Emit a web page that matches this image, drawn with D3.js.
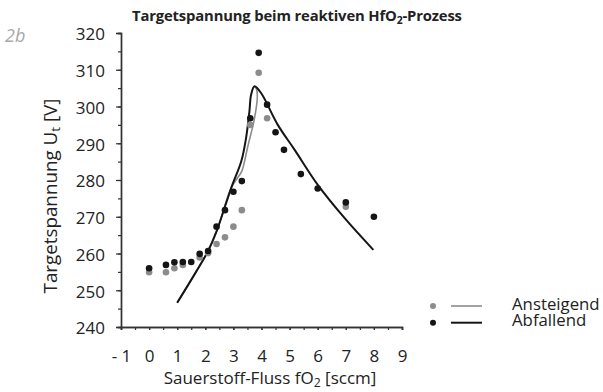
<!DOCTYPE html>
<html>
<head>
<meta charset="utf-8">
<script src="https://cdn.jsdelivr.net/npm/d3@7"></script>
<style>
  html, body { margin: 0; padding: 0; background: #fff; }
  svg { display: block; }
  text { font-family: "Open Sans", Lato, sans-serif; fill: #222; }
</style>
</head>
<body>
<svg id="chart" width="603" height="392"></svg>
<script>
// Oxygen flow (sccm) and target voltage (V), rising sweep (grey)
const risingFlow = [0, 0.6, 0.9, 1.2, 1.8, 2.1, 2.4, 2.7, 3.0, 3.3, 3.6, 3.9, 4.2, 7.0];
const risingVolt = [254.9, 254.9, 256.0, 256.9, 258.9, 260.1, 262.6, 264.4, 267.3, 271.8, 295.0, 309.2, 296.8, 272.7];

// Falling sweep (black)
const fallingFlow = [0, 0.6, 0.9, 1.2, 1.5, 1.8, 2.1, 2.4, 2.7, 3.0, 3.3, 3.6, 3.9, 4.2, 4.5, 4.8, 5.4, 6.0, 7.0, 8.0];
const fallingVolt = [256.0, 256.9, 257.6, 257.7, 257.7, 259.9, 260.7, 267.3, 271.8, 276.8, 279.7, 296.8, 314.6, 300.5, 293.0, 288.2, 281.6, 277.7, 273.9, 270.0];

// Model curves
const risingFitFlow = [1.0, 1.67, 2.1, 2.4, 2.92, 3.15, 3.3, 3.52, 3.73, 3.85, 3.82, 3.75];
const risingFitVolt = [246.6, 255.0, 260.7, 266.0, 277.8, 280.6, 282.4, 289.4, 296.0, 302.3, 304.8, 305.5];
const fallingFitFlow = [1.0, 1.67, 2.1, 2.4, 2.92, 3.28, 3.45, 3.57, 3.63, 3.75, 3.99, 4.58, 5.18, 6.01, 6.96, 7.98];
const fallingFitVolt = [246.6, 255.0, 260.7, 266.0, 277.8, 285.1, 291.4, 298.7, 303.2, 305.5, 303.6, 295.0, 288.2, 278.6, 269.6, 261.0];

// Axis ticks
const xTicks = [-1, 0, 1, 2, 3, 4, 5, 6, 7, 8, 9];
const yTicks = [240, 250, 260, 270, 280, 290, 300, 310, 320];

const seriesNames = ["Ansteigend", "Abfallend"];
const GREY = "#8c8c8c", BLACK = "#151515";

const svg = d3.select("#chart");
svg.append("rect").attr("width", 603).attr("height", 392).attr("fill", "#fff");

const x = d3.scaleLinear().domain([-1, 9]).range([121, 402]);
const y = d3.scaleLinear().domain([240, 320]).range([327, 33]);

// Panel tag
svg.append("text").attr("x", 5).attr("y", 42).attr("font-size", 18)
  .attr("font-style", "italic").style("fill", "#a8a8a8").text("2b");

// Title
const title = svg.append("text").attr("x", 132).attr("y", 21)
  .attr("font-size", 14.8).attr("font-weight", "bold").attr("letter-spacing", -0.15);
title.append("tspan").text("Targetspannung beim reaktiven HfO");
title.append("tspan").attr("font-size", "0.7em").attr("dy", 3).text("2");
title.append("tspan").attr("dy", -3).text("-Prozess");

// Minor ticks every 5 V / 0.5 sccm
const yMinor = d3.range(240, 321, 5);
const xMinor = d3.range(-1, 9.01, 0.5);

const yAxisMinor = svg.append("g").attr("transform", "translate(121,0)")
  .call(d3.axisLeft(y).tickValues(yMinor).tickSize(3).tickFormat(""));
const yAxis = svg.append("g").attr("transform", "translate(121,0)")
  .call(d3.axisLeft(y).tickValues(yTicks).tickSize(5).tickPadding(11).tickFormat(d3.format("d")));

const xAxisMinor = svg.append("g").attr("transform", "translate(0,327)")
  .call(d3.axisBottom(x).tickValues(xMinor).tickSize(3).tickFormat(""));
const xAxis = svg.append("g").attr("transform", "translate(0,327)")
  .call(d3.axisBottom(x).tickValues(xTicks).tickSize(3).tickPadding(20)
    .tickFormat(d => d < 0 ? "- " + Math.abs(d) : String(d)));

[yAxisMinor, yAxis, xAxisMinor, xAxis].forEach(g => {
  g.selectAll(".domain").attr("stroke", "#333").attr("stroke-width", 1.4);
  g.selectAll(".tick line").attr("stroke", "#333").attr("stroke-width", 1.2);
});
yAxis.selectAll(".tick text").attr("font-size", 17).attr("font-family", "'Open Sans', sans-serif")
  .attr("fill", "#222").attr("dy", "0.4em");
xAxis.selectAll(".tick text").attr("font-size", 17).attr("font-family", "'Open Sans', sans-serif")
  .attr("fill", "#222");

// Axis titles
const xTitle = svg.append("text").attr("x", 270).attr("y", 384)
  .attr("text-anchor", "middle").attr("font-size", 17);
xTitle.append("tspan").text("Sauerstoff-Fluss fO");
xTitle.append("tspan").attr("font-size", "0.72em").attr("dy", 3).text("2");
xTitle.append("tspan").attr("dy", -3).text(" [sccm]");

const yTitle = svg.append("text").attr("transform", "translate(57,196) rotate(-90)")
  .attr("text-anchor", "middle").attr("font-size", 18.8);
yTitle.append("tspan").text("Targetspannung U");
yTitle.append("tspan").attr("font-size", "0.72em").attr("dy", 3).text("t");
yTitle.append("tspan").attr("dy", -3).text(" [V]");

// Curves
const line = d3.line().x(d => x(d[0])).y(d => y(d[1])).curve(d3.curveCatmullRom.alpha(0.5));
svg.append("path").datum(d3.zip(risingFitFlow, risingFitVolt))
  .attr("d", line).attr("fill", "none").attr("stroke", GREY).attr("stroke-width", 1.6);
svg.append("path").datum(d3.zip(fallingFitFlow, fallingFitVolt))
  .attr("d", line).attr("fill", "none").attr("stroke", BLACK).attr("stroke-width", 2);

// Measured points
svg.append("g").selectAll("circle").data(d3.zip(risingFlow, risingVolt)).join("circle")
  .attr("cx", d => x(d[0])).attr("cy", d => y(d[1])).attr("r", 3.3).attr("fill", GREY);
svg.append("g").selectAll("circle").data(d3.zip(fallingFlow, fallingVolt)).join("circle")
  .attr("cx", d => x(d[0])).attr("cy", d => y(d[1])).attr("r", 3.3).attr("fill", BLACK);

// Legend
const legend = svg.append("g").selectAll("g").data(seriesNames).join("g")
  .attr("transform", (d, i) => `translate(0,${306 + i * 16.7})`);
legend.append("circle").attr("cx", 433).attr("cy", 0).attr("r", 3)
  .attr("fill", (d, i) => i ? BLACK : GREY);
legend.append("line").attr("x1", 451).attr("x2", 482).attr("y1", 0).attr("y2", 0)
  .attr("stroke", (d, i) => i ? BLACK : GREY).attr("stroke-width", (d, i) => i ? 2 : 1.6);
legend.append("text").attr("x", 512).attr("y", 3.5).attr("font-size", 16.8).text(d => d);
</script>
</body>
</html>
